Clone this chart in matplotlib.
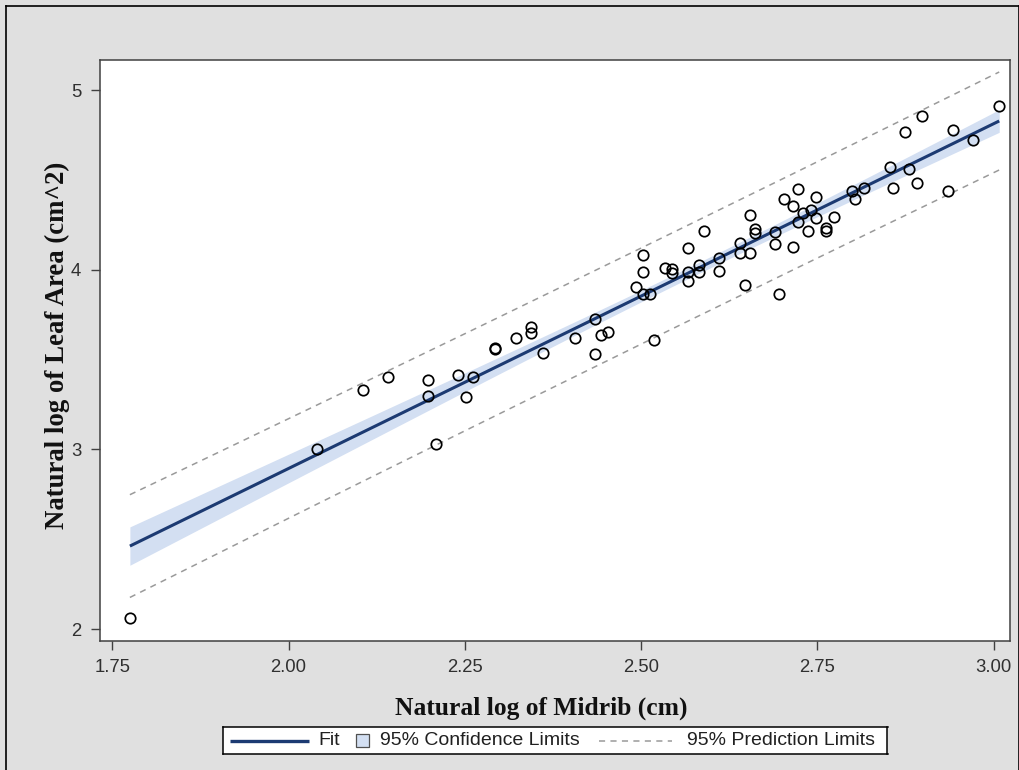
import numpy as np
import matplotlib
matplotlib.use("Agg")
import matplotlib.pyplot as plt
from matplotlib.lines import Line2D
from matplotlib.patches import Rectangle

# ---- data ----
log_midrib = [1.775, 2.041, 2.105, 2.141, 2.198, 2.198, 2.209, 2.241, 2.252, 2.262,
              2.293, 2.293, 2.323, 2.344, 2.344, 2.361, 2.407, 2.434, 2.434, 2.443,
              2.453, 2.518, 2.493, 2.503, 2.503, 2.503, 2.512, 2.534, 2.544, 2.544,
              2.566, 2.566, 2.566, 2.582, 2.582, 2.589, 2.611, 2.611, 2.648, 2.641,
              2.641, 2.655, 2.655, 2.662, 2.662, 2.690, 2.690, 2.696, 2.716, 2.703,
              2.716, 2.723, 2.730, 2.723, 2.741, 2.748, 2.748, 2.737, 2.762, 2.762,
              2.773, 2.799, 2.804, 2.816, 2.853, 2.857, 2.880, 2.892, 2.935, 2.875,
              2.898, 2.942, 2.971, 3.008]
log_leaf_area = [2.060, 3.002, 3.332, 3.404, 3.386, 3.298, 3.030, 3.412, 3.289, 3.404,
                 3.562, 3.556, 3.617, 3.681, 3.646, 3.538, 3.618, 3.723, 3.532, 3.638,
                 3.654, 3.608, 3.903, 3.987, 4.081, 3.866, 3.864, 4.009, 4.002, 3.983,
                 4.119, 3.985, 3.939, 4.026, 3.988, 4.215, 4.063, 3.993, 3.913, 4.146,
                 4.091, 4.305, 4.091, 4.224, 4.202, 4.207, 4.143, 3.867, 4.128, 4.394,
                 4.356, 4.447, 4.313, 4.267, 4.332, 4.404, 4.286, 4.215, 4.234, 4.217,
                 4.294, 4.437, 4.393, 4.457, 4.571, 4.456, 4.560, 4.482, 4.437, 4.766,
                 4.856, 4.777, 4.721, 4.910]
x_ticks = [1.75, 2.00, 2.25, 2.50, 2.75, 3.00]
x_ticklabels = ["1.75", "2.00", "2.25", "2.50", "2.75", "3.00"]
y_ticks = [2, 3, 4, 5]
y_ticklabels = ["2", "3", "4", "5"]
x_title = "Natural log of Midrib (cm)"
y_title = "Natural log of Leaf Area (cm^2)"
legend_labels = ["Fit", "95% Confidence Limits", "95% Prediction Limits"]

# ---- regression ----
x = np.asarray(log_midrib)
y = np.asarray(log_leaf_area)
n = len(x)
xbar = x.mean()
sxx = np.sum((x - xbar) ** 2)
b1 = np.sum((x - xbar) * (y - y.mean())) / sxx
b0 = y.mean() - b1 * xbar
s = np.sqrt(np.sum((y - (b0 + b1 * x)) ** 2) / (n - 2))
T95 = 1.994
xs = np.linspace(x.min(), x.max(), 300)
yhat = b0 + b1 * xs
se_mean = s * np.sqrt(1.0 / n + (xs - xbar) ** 2 / sxx)
se_pred = s * np.sqrt(1.0 + 1.0 / n + (xs - xbar) ** 2 / sxx)

# ---- figure ----
W, H = 1020, 770
BG = "#e0e0e0"
fig = plt.figure(figsize=(W / 100, H / 100), dpi=100, facecolor=BG)

def fx(px):
    return px / W

def fy(py):
    return 1 - py / H

ax = fig.add_axes([fx(100), fy(640.7), fx(1010) - fx(100), fy(60) - fy(640.7)])
ax.set_facecolor("white")

FIT_C = "#1c3a72"
CI_C = "#d3dff2"
PI_C = "#9a9a9a"

ax.fill_between(xs, yhat - T95 * se_mean, yhat + T95 * se_mean, color=CI_C, lw=0, zorder=1)
ax.plot(xs, yhat + T95 * se_pred, color=PI_C, lw=1.1, dashes=(4, 3.5), zorder=2)
ax.plot(xs, yhat - T95 * se_pred, color=PI_C, lw=1.1, dashes=(4, 3.5), zorder=2)
ax.plot(xs, yhat, color=FIT_C, lw=2.2, zorder=3, solid_capstyle="butt")
ax.plot(x, y, linestyle="none", marker="o", markersize=7.5, markerfacecolor="none",
        markeredgecolor="black", markeredgewidth=1.25, zorder=4)

ax.set_xlim(1.7326, 3.0233)
ax.set_ylim(1.935, 5.167)
ax.set_xticks(x_ticks)
ax.set_xticklabels(x_ticklabels)
ax.set_yticks(y_ticks)
ax.set_yticklabels(y_ticklabels)

for sp in ax.spines.values():
    sp.set_color("#404040")
    sp.set_linewidth(1.1)

ax.tick_params(axis="both", direction="out", length=6.5, width=1.0, color="#404040",
               labelcolor="#303030")
ax.tick_params(axis="x", pad=7)
ax.tick_params(axis="y", pad=7)
for lab in ax.get_xticklabels() + ax.get_yticklabels():
    lab.set_fontfamily("Liberation Sans")
    lab.set_fontsize(13.3)

# axis titles
fig.text(fx(541.7), fy(714.3), x_title, ha="center", va="baseline",
         family="Liberation Serif", weight="bold", size=18.4, color="#111111")
fig.text(fx(64), fy(345), y_title, ha="center", va="baseline", rotation=90,
         rotation_mode="anchor", family="Liberation Serif", weight="bold",
         size=19.3, color="#111111")

# legend box (manual layout, pixel coordinates)
lx0, lx1, ly0, ly1 = 222.7, 887.5, 727, 754
lax = fig.add_axes([fx(lx0), fy(ly1), fx(lx1) - fx(lx0), fy(ly0) - fy(ly1)])
lax.set_xlim(lx0, lx1)
lax.set_ylim(ly1, ly0)
lax.set_facecolor("white")
lax.set_xticks([])
lax.set_yticks([])
for sp in lax.spines.values():
    sp.set_color("black")
    sp.set_linewidth(1.1)
ymid = 740.5
lax.add_line(Line2D([230, 309], [ymid, ymid], color=FIT_C, lw=2.4, solid_capstyle="butt"))
lax.text(318, ymid, legend_labels[0], ha="left", va="center", family="Liberation Sans",
         size=14, color="#202020")
lax.add_patch(Rectangle((355.5, ymid - 6.5), 13, 13, facecolor=CI_C, edgecolor="#505050", lw=0.9))
lax.text(380, ymid, legend_labels[1], ha="left", va="center", family="Liberation Sans",
         size=14, color="#202020")
lax.add_line(Line2D([599, 672], [ymid, ymid], color=PI_C, lw=1.1, dashes=(4, 3.5)))
lax.text(686.7, ymid, legend_labels[2], ha="left", va="center", family="Liberation Sans",
         size=14, color="#202020")

# outer border
for xs_, ys_ in [([fx(6.5), fx(6.5)], [fy(6), 0]),
                 ([fx(6.5), fx(1019)], [fy(6), fy(6)]),
                 ([fx(1019), fx(1019)], [fy(6), 0])]:
    fig.add_artist(Line2D(xs_, ys_, transform=fig.transFigure, color="black", lw=1.2))

fig.savefig("out.png", dpi=100, facecolor=BG)
